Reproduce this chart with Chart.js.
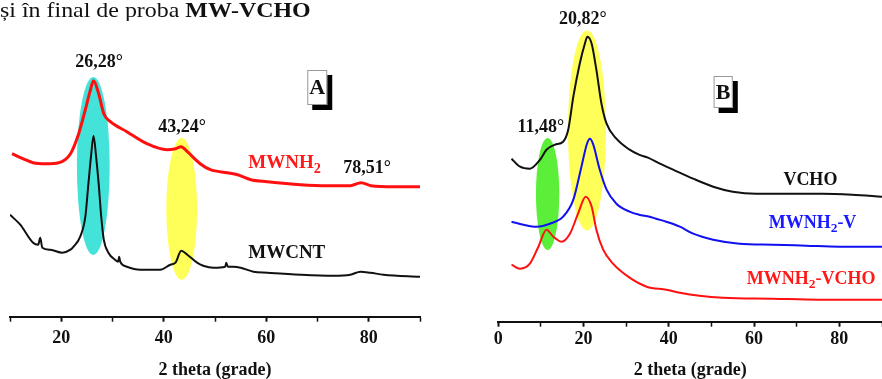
<!DOCTYPE html>
<html>
<head>
<meta charset="utf-8">
<script src="https://cdn.jsdelivr.net/npm/chart.js@4"></script>
<style>
  html, body { margin: 0; padding: 0; background: #fff; }
  body { width: 882px; height: 379px; position: relative; overflow: hidden; }
  #caption { position: absolute; left: 0; top: 0; z-index: 2; white-space: nowrap;
    font-family: "Liberation Serif", "Times New Roman", serif; font-size: 23px; line-height: 21px; color: #111;
    transform: scale(1.04, 0.92); transform-origin: 0 0; }
  #wrapA { position: absolute; left: 0; top: 0; width: 440px; height: 379px; }
  #wrapB { position: absolute; left: 440px; top: 0; width: 442px; height: 379px; }
</style>
</head>
<body>
<div id="caption">și în final de proba <b>MW-VCHO</b></div>
<div id="wrapA"><canvas id="chartA" width="440" height="379"></canvas></div>
<div id="wrapB"><canvas id="chartB" width="442" height="379"></canvas></div>
<script>
// panel A: MWNH2 and MWCNT (intensity in a.u., curves already offset)
const thetaA_MWNH2 = [10.4, 12.5, 14.5, 17, 19.5, 21.8, 23.4, 24.7, 25.6, 26.3, 27.3, 28.3, 29.6, 32.8, 36.7, 40.6, 42.3, 43.4, 44.6, 47.1, 49.1, 52.4, 54.4, 57, 60.2, 66.7, 72, 76.4, 78.5, 80.4, 85, 90];
const intA_MWNH2 = [163, 158, 154, 153, 154, 163, 183, 207, 225, 236, 223, 203, 195, 185, 173, 167, 168, 170, 165, 153, 147, 144, 142, 137, 135, 132, 131, 131, 134, 131, 130, 130];

const thetaA_MWCNT = [10, 12, 14.5, 15.5, 15.9, 16.3, 17.9, 20.2, 21.8, 22.4, 23.7, 24.7, 25.3, 25.8, 26.3, 26.8, 27.3, 27.8, 28.3, 29.2, 30.5, 31.1, 31.3, 31.5, 32.8, 35.4, 39.3, 41.3, 42.3, 43.4, 44.6, 46.5, 47.7, 49.7, 52.0, 52.2, 52.5, 53.6, 55, 57.5, 60.2, 66.7, 73.1, 76.4, 78.4, 80.3, 82.9, 90];
const intA_MWCNT = [102, 92, 74, 72, 79, 69, 67, 64, 67, 70, 80, 100, 133, 160, 181, 160, 133, 100, 77, 64, 57, 55, 60, 55, 50, 47, 47, 52, 54, 66, 62, 54, 51, 49, 50, 54, 50, 50, 49, 45, 44, 42, 41, 42, 45, 44, 42, 40];

// panel B: VCHO, MWNH2-V, MWNH2-VCHO
const thetaB_VCHO = [3.1, 5.1, 7.4, 9.8, 11.3, 13.3, 15.2, 16.4, 17.6, 19.1, 20.3, 20.9, 21.9, 23.0, 24.2, 25.4, 27.7, 30.8, 33, 35.1, 37.9, 41.0, 45.7, 50.4, 55, 60.5, 68.3, 76, 83, 90];
const intB_VCHO = [163, 155, 153, 162, 172, 177, 180, 192, 225, 258, 278, 285, 278, 252, 218, 198, 183, 172, 167, 164, 158, 152, 143, 135, 130, 128, 128, 128, 127, 125];

const thetaB_MWNH2V = [3.1, 5.9, 9.0, 12.1, 15.2, 17.6, 19.5, 20.8, 21.5, 22.2, 23.8, 25.4, 27.7, 30.8, 33, 35.5, 37, 39.4, 42.6, 45.7, 50.4, 56.6, 64.4, 72.2, 80, 90];
const intB_MWNH2V = [100, 97, 95, 98, 105, 122, 155, 178, 183, 178, 152, 132, 118, 110, 107, 105, 103, 100, 95, 88, 82, 78, 77, 76, 75, 75];

const thetaB_MWNH2VCHO = [3.1, 5.1, 7.4, 9.4, 11.3, 12.9, 14.8, 16.8, 18.7, 20.5, 21.9, 23.0, 24.6, 26.9, 30.8, 34.8, 39.4, 42.6, 47.2, 52.7, 64.4, 75, 90];
const intB_MWNH2VCHO = [57, 53, 58, 75, 92, 85, 80, 88, 108, 125, 115, 92, 72, 58, 44, 35, 32, 29, 26, 24, 23, 22, 22];

const SERIF = '"Liberation Serif", "Times New Roman", serif';

function pts(xs, ys) {
  return xs.map((t, i) => ({ x: t, y: ys[i] }));
}

// ellipses, peak labels and the A/B boxes, all placed in data units
const marksPlugin = {
  id: 'marks',
  beforeDatasetsDraw(chart, args, opts) {
    const { ctx, scales: { x, y } } = chart;
    (opts.ellipses || []).forEach(e => {
      const cx = x.getPixelForValue(e.theta);
      const rx = Math.abs(x.getPixelForValue(e.theta + e.dx) - cx);
      const cy = y.getPixelForValue(e.level);
      const ry = Math.abs(y.getPixelForValue(e.level + e.dy) - cy);
      ctx.save();
      ctx.fillStyle = e.color;
      ctx.beginPath();
      ctx.ellipse(cx, cy, rx, ry, 0, 0, Math.PI * 2);
      ctx.fill();
      ctx.restore();
    });
  },
  afterDatasetsDraw(chart, args, opts) {
    const { ctx, scales: { x, y } } = chart;
    ctx.save();
    (opts.texts || []).forEach(t => {
      const size = t.size || 18;
      const parts = t.parts || [{ s: t.text }];
      const widths = parts.map(p => {
        ctx.font = 'bold ' + (p.sub ? size * 0.75 : size) + 'px ' + SERIF;
        return ctx.measureText(p.s).width;
      });
      const total = widths.reduce((a, b) => a + b, 0);
      let px = x.getPixelForValue(t.theta);
      if (t.align !== 'left') px -= total / 2;
      const py = y.getPixelForValue(t.level);
      ctx.fillStyle = t.color || '#111';
      ctx.textBaseline = 'middle';
      ctx.textAlign = 'left';
      parts.forEach((p, i) => {
        ctx.font = 'bold ' + (p.sub ? size * 0.75 : size) + 'px ' + SERIF;
        ctx.fillText(p.s, px, p.sub ? py + size * 0.3 : py);
        px += widths[i];
      });
    });
    (opts.boxes || []).forEach(b => {
      const x1 = x.getPixelForValue(b.from[0]);
      const x2 = x.getPixelForValue(b.to[0]);
      const y1 = y.getPixelForValue(b.from[1]);
      const y2 = y.getPixelForValue(b.to[1]);
      ctx.fillStyle = '#000';
      ctx.fillRect(x1 + 5, y1 + 5, x2 - x1, y2 - y1);
      ctx.fillStyle = '#fff';
      ctx.fillRect(x1, y1, x2 - x1, y2 - y1);
      ctx.strokeStyle = '#999';
      ctx.lineWidth = 1;
      ctx.strokeRect(x1 + 0.5, y1 + 0.5, x2 - x1 - 1, y2 - y1 - 1);
      ctx.fillStyle = '#111';
      ctx.font = 'bold 22px ' + SERIF;
      ctx.textAlign = 'center';
      ctx.textBaseline = 'middle';
      ctx.fillText(b.text, (x1 + x2) / 2, (y1 + y2) / 2 + 1);
    });
    ctx.restore();
  }
};

function line(data, color, width) {
  return {
    data: data,
    borderColor: color,
    borderWidth: width,
    pointRadius: 0,
    fill: false,
    cubicInterpolationMode: 'monotone'
  };
}

function xAxis(min, tickPad, boxHeight) {
  return {
    type: 'linear',
    min: min,
    max: 90,
    ticks: {
      stepSize: 10,
      autoSkip: false,
      maxRotation: 0,
      padding: tickPad,
      color: '#111',
      font: { family: SERIF, size: 18, weight: 'bold' },
      callback: v => (v % 20 === 0 ? v : '')
    },
    grid: {
      display: true,
      drawOnChartArea: false,
      drawTicks: true,
      tickLength: 5,
      tickColor: '#111',
      tickWidth: ctx => (ctx.tick && ctx.tick.value % 20 === 0 ? 2 : 1.5)
    },
    border: { display: true, color: '#111', width: 2 },
    title: {
      display: true,
      text: '2 theta (grade)',
      color: '#111',
      font: { family: SERIF, size: 18, weight: 'bold', lineHeight: 1 },
      padding: { top: 0, bottom: 0 }
    },
    afterFit: s => {
      s.height = boxHeight;
      s.paddingLeft = 0;
      s.paddingRight = 0;
    }
  };
}

new Chart(document.getElementById('chartA'), {
  type: 'line',
  data: {
    datasets: [
      line(pts(thetaA_MWNH2, intA_MWNH2), '#ff1010', 3),
      line(pts(thetaA_MWCNT, intA_MWCNT), '#111', 2)
    ]
  },
  plugins: [marksPlugin],
  options: {
    responsive: false,
    animation: false,
    devicePixelRatio: 1,
    layout: { padding: { left: 10, right: 20, top: 0, bottom: 0 } },
    scales: {
      x: xAxis(10, 6, 62.3),
      y: { display: false, min: 0, max: 316.7 }
    },
    plugins: {
      legend: { display: false },
      tooltip: { enabled: false },
      marks: {
        ellipses: [
          { theta: 26.25, level: 150.7, dx: 3.2, dy: 89, color: '#44e3da' },
          { theta: 43.5, level: 107.7, dx: 3.0, dy: 71, color: '#ffff5a' }
        ],
        texts: [
          { text: '26,28°', theta: 27.4, level: 254.7 },
          { text: '43,24°', theta: 43.6, level: 189.7 },
          { text: '78,51°', theta: 79.7, level: 148.4 },
          { parts: [{ s: 'MWNH' }, { s: '2', sub: true }], theta: 56.5, level: 153.2, align: 'left', color: '#ff1a1a', size: 19 },
          { text: 'MWCNT', theta: 64.0, level: 63.7, size: 19 }
        ],
        boxes: [
          { text: 'A', from: [68.0, 246.7], to: [71.9, 211.7] }
        ]
      }
    }
  }
});

new Chart(document.getElementById('chartB'), {
  type: 'line',
  data: {
    datasets: [
      line(pts(thetaB_VCHO, intB_VCHO), '#111', 2),
      line(pts(thetaB_MWNH2V, intB_MWNH2V), '#1010f0', 2),
      line(pts(thetaB_MWNH2VCHO, intB_MWNH2VCHO), '#ff1010', 2)
    ]
  },
  plugins: [marksPlugin],
  options: {
    responsive: false,
    animation: false,
    devicePixelRatio: 1,
    layout: { padding: { left: 58.3, right: 0, top: 0, bottom: 0 } },
    scales: {
      x: xAxis(0, 2, 57.3),
      y: { display: false, min: 0, max: 321.7 }
    },
    plugins: {
      legend: { display: false },
      tooltip: { enabled: false },
      marks: {
        ellipses: [
          { theta: 11.57, level: 127.7, dx: 2.74, dy: 56, color: '#5cef3a' },
          { theta: 20.8, level: 191.3, dx: 4.45, dy: 100, color: '#ffff5a' }
        ],
        texts: [
          { text: '20,82°', theta: 19.84, level: 302.7 },
          { text: '11,48°', theta: 10.0, level: 194.7 },
          { text: 'VCHO', theta: 73.2, level: 141.7 },
          { parts: [{ s: 'MWNH' }, { s: '2', sub: true }, { s: '-V' }], theta: 73.7, level: 98.7, color: '#1a1aff' },
          { parts: [{ s: 'MWNH' }, { s: '2', sub: true }, { s: '-VCHO' }], theta: 73.4, level: 42.7, color: '#ff1a1a' }
        ],
        boxes: [
          { text: 'B', from: [50.5, 245.7], to: [55.0, 213.7] }
        ]
      }
    }
  }
});
</script>
</body>
</html>
